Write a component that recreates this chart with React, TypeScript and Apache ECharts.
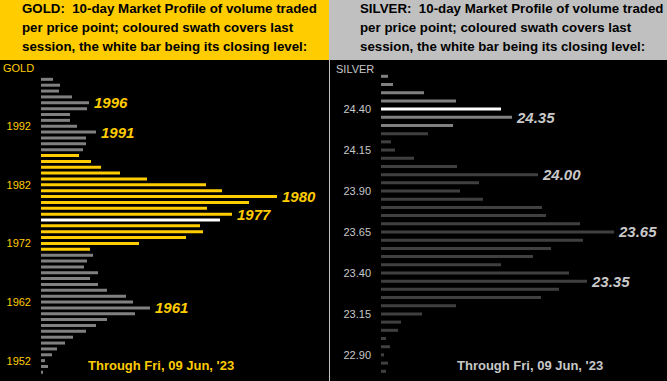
import React, { useEffect, useRef } from "react";
import * as echarts from "echarts";

const goldPrices = ["1950","1951","1952","1953","1954","1955","1956","1957","1958","1959","1960","1961","1962","1963","1964","1965","1966","1967","1968","1969","1970","1971","1972","1973","1974","1975","1976","1977","1978","1979","1980","1981","1982","1983","1984","1985","1986","1987","1988","1989","1990","1991","1992","1993","1994","1995","1996","1997","1998","1999","2000"];
const goldVolume = [2,7,4,11,16,24,32,45,55,66,94,109,92,85,66,57,49,57,43,46,52,49,98,145,162,159,179,191,166,208,236,181,165,106,79,60,50,38,42,45,45,55,36,29,29,46,48,31,18,19,12];
const goldTicks = ["1952","1962","1972","1982","1992"];
const goldCallouts = ["1996","1991","1980","1977","1961"];
const goldSwath = ["1971","1987"];
const goldClose = "1976";

const silverPrices = ["22.80","22.85","22.90","22.95","23.00","23.05","23.10","23.15","23.20","23.25","23.30","23.35","23.40","23.45","23.50","23.55","23.60","23.65","23.70","23.75","23.80","23.85","23.90","23.95","24.00","24.05","24.10","24.15","24.20","24.25","24.30","24.35","24.40","24.45","24.50","24.55","24.60"];
const silverVolume = [5,7,3,9,5,17,20,41,75,160,178,206,188,120,152,170,202,233,199,165,161,102,79,98,157,76,33,14,10,47,72,131,120,75,43,12,7];
const silverTicks = ["22.90","23.15","23.40","23.65","23.90","24.15","24.40"];
const silverCallouts = ["24.35","24.00","23.65","23.35"];
const silverSwath = ["24.30","24.60"];
const silverClose = "24.40";

const headerLines = [
  ["GOLD:  10-day Market Profile of volume traded", "per price point; coloured swath covers last", "session, the white bar being its closing level:"],
  ["SILVER:  10-day Market Profile of volume traded", "per price point; coloured swath covers last", "session, the white bar being its closing level:"],
];
const footerText = "Through Fri, 09 Jun, '23";

const FONT = "'Liberation Sans', Arial, sans-serif";
const GOLD = "#FFCC00";
const SILV = "#C8C8C8";

export default function App() {
  const ref = useRef<HTMLDivElement>(null);
  useEffect(() => {
    if (!ref.current) return;
    const chart = echarts.init(ref.current, undefined, { renderer: "svg" });

    const goldData = goldPrices.map((p, i) => {
      const v = Number(p);
      let color = "#808080";
      if (v >= Number(goldSwath[0]) && v <= Number(goldSwath[1])) color = GOLD;
      if (p === goldClose) color = "#FFFFFF";
      const item: any = { value: goldVolume[i], itemStyle: { color } };
      if (goldCallouts.includes(p)) {
        item.label = {
          show: true, position: "right", distance: 5, formatter: p,
          color: GOLD, fontSize: 15, fontWeight: "bold", fontStyle: "italic", fontFamily: FONT,
        };
      }
      return item;
    });
    const silverData = silverPrices.map((p, i) => {
      const v = Number(p);
      let color = "#404040";
      if (v >= Number(silverSwath[0]) - 1e-9 && v <= Number(silverSwath[1]) + 1e-9) color = "#808080";
      if (p === silverClose) color = "#FFFFFF";
      const item: any = { value: silverVolume[i], itemStyle: { color } };
      if (silverCallouts.includes(p)) {
        item.label = {
          show: true, position: "right", distance: 5, formatter: p,
          color: SILV, fontSize: 15, fontWeight: "bold", fontStyle: "italic", fontFamily: FONT,
        };
      }
      return item;
    });

    const headerGraphics: any[] = [];
    headerLines.forEach((lines, k) => {
      lines.forEach((t, j) => {
        headerGraphics.push({
          type: "text", left: k === 0 ? 22 : 360, top: 2 + j * 19,
          style: { text: t, fill: "#000", font: `bold 13.3px ${FONT}` },
        });
      });
    });

    chart.setOption({
      animation: false,
      backgroundColor: "#000000",
      grid: [
        { left: 41, width: 280, top: 76.4, height: 298.9 },
        { left: 381, width: 279, top: 72.2, height: 295 + 8.19 },
      ],
      xAxis: [
        { type: "value", gridIndex: 0, min: 0, max: 280, show: false },
        { type: "value", gridIndex: 1, min: 0, max: 279, show: false },
      ],
      yAxis: [
        {
          type: "category", gridIndex: 0, data: goldPrices,
          axisLine: { show: false }, axisTick: { show: false }, splitLine: { show: false },
          axisLabel: {
            margin: 10, color: GOLD, fontSize: 11, fontFamily: FONT,
            interval: (_i: number, v: string) => goldTicks.includes(v),
          },
        },
        {
          type: "category", gridIndex: 1, data: silverPrices,
          axisLine: { show: false }, axisTick: { show: false }, splitLine: { show: false },
          axisLabel: {
            margin: 10, color: SILV, fontSize: 11, fontFamily: FONT,
            interval: (_i: number, v: string) => silverTicks.includes(v),
          },
        },
      ],
      series: [
        { type: "bar", xAxisIndex: 0, yAxisIndex: 0, data: goldData, barWidth: 3 },
        { type: "bar", xAxisIndex: 1, yAxisIndex: 1, data: silverData, barWidth: 3 },
      ],
      graphic: [
        { type: "rect", shape: { x: 0, y: 0, width: 329, height: 60 }, style: { fill: GOLD } },
        { type: "rect", shape: { x: 329, y: 0, width: 338, height: 60 }, style: { fill: "#C0C0C0" } },
        { type: "line", shape: { x1: 329.5, y1: 60, x2: 329.5, y2: 381 }, style: { stroke: "#C0C0C0", lineWidth: 1 } },
        ...headerGraphics,
        { type: "text", left: 3, top: 62, style: { text: "GOLD", fill: GOLD, font: `11px ${FONT}` } },
        { type: "text", left: 336, top: 63, style: { text: "SILVER", fill: SILV, font: `11px ${FONT}` } },
        { type: "text", left: 88, top: 359, style: { text: footerText, fill: GOLD, font: `bold 13px ${FONT}` } },
        { type: "text", left: 457, top: 359, style: { text: footerText, fill: SILV, font: `bold 13px ${FONT}` } },
      ],
    });
    return () => chart.dispose();
  }, []);
  return <div ref={ref} style={{ position: "fixed", left: 0, top: 0, width: 667, height: 381 }} />;
}
